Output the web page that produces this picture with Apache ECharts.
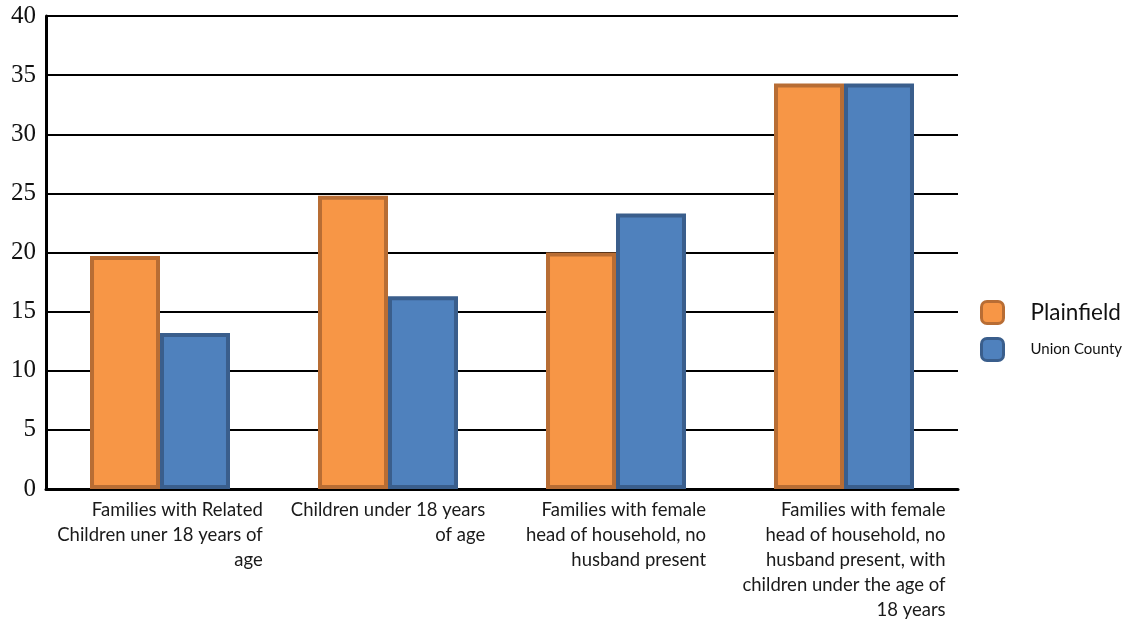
<!DOCTYPE html>
<html>
<head>
<meta charset="utf-8">
<script src="https://cdn.jsdelivr.net/npm/echarts@6/dist/echarts.min.js"></script>
<style>
  html, body { margin: 0; padding: 0; background: #fff; }
  #chart { width: 1128px; height: 622px; }
</style>
</head>
<body>
<div id="chart"></div>
<script>
// Family statistics: Plainfield vs. Union County (percent)
const categories = [
  ['Families with Related', 'Children uner 18 years of', 'age'],
  ['Children under 18 years', 'of age'],
  ['Families with female', 'head of household, no', 'husband present'],
  ['Families with female', 'head of household, no', 'husband present, with', 'children under the age of', '18 years']
];
const plainfield = [19.7, 24.8, 20.0, 34.3];
const unionCounty = [13.2, 16.3, 23.3, 34.3];
const yTicks = { min: 0, max: 40, interval: 5 };

const chart = echarts.init(document.getElementById('chart'));

chart.setOption({
  animation: false,
  backgroundColor: '#ffffff',
  grid: { left: 46, right: 170, top: 16, bottom: 133, containLabel: false },
  xAxis: {
    type: 'category',
    data: categories.map(lines => lines.join('\n')),
    axisLine: { lineStyle: { color: '#000', width: 3 } },
    axisTick: { show: false },
    axisLabel: {
      interval: 0,
      margin: 9,
      align: 'center',
      formatter: v => v.split('\n').map(s => '{r|' + s + '}').join('\n'),
      rich: {
        r: { align: 'right', fontFamily: 'Lato', fontSize: 18.5, color: '#1a1a1a', lineHeight: 25 }
      }
    }
  },
  yAxis: {
    type: 'value',
    min: yTicks.min,
    max: yTicks.max,
    interval: yTicks.interval,
    axisLine: { show: true, lineStyle: { color: '#000', width: 3 } },
    axisTick: { show: false },
    axisLabel: { margin: 10, fontFamily: 'Liberation Serif', fontSize: 25, color: '#111', padding: [4, 0, 0, 0] },
    splitLine: { lineStyle: { color: '#000', width: 2 } }
  },
  legend: [
    {
      data: ['Plainfield'],
      left: 980, top: 300,
      padding: 0,
      orient: 'vertical',
      itemWidth: 22, itemHeight: 22,
      icon: 'roundRect',
      itemStyle: { borderWidth: 3 },
      textStyle: { fontFamily: 'Lato', fontSize: 22.5, color: '#111', padding: [0, 0, 0, 22] }
    },
    {
      data: ['Union County'],
      left: 980, top: 337,
      padding: 0,
      orient: 'vertical',
      itemWidth: 22, itemHeight: 22,
      icon: 'roundRect',
      itemStyle: { borderWidth: 3 },
      textStyle: { fontFamily: 'Lato', fontSize: 15, color: '#111', padding: [0, 0, 0, 22] }
    }
  ],
  series: [
    {
      name: 'Plainfield',
      type: 'bar',
      data: plainfield,
      barWidth: '30.7%',
      barGap: '0%',
      itemStyle: { color: '#F79646', borderColor: '#B86D34', borderWidth: 4 }
    },
    {
      name: 'Union County',
      type: 'bar',
      data: unionCounty,
      barWidth: '30.7%',
      itemStyle: { color: '#4F81BD', borderColor: '#3A5E8C', borderWidth: 4 }
    }
  ]
});
</script>
</body>
</html>
